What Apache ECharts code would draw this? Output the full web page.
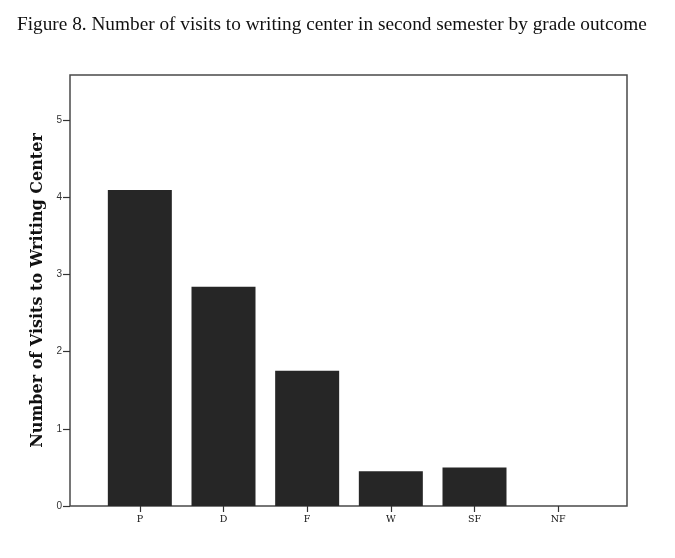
<!DOCTYPE html>
<html>
<head>
<meta charset="utf-8">
<script src="https://cdn.jsdelivr.net/npm/echarts@6/dist/echarts.min.js"></script>
<style>
html,body{margin:0;padding:0;background:#fff;}
#chart{width:675px;height:558px;}
</style>
</head>
<body>
<div id="chart"></div>
<script>
const titleText = "Figure 8. Number of visits to writing center in second semester by grade outcome";
const yAxisTitle = "Number of Visits to Writing Center";
const categories = ["P", "D", "F", "W", "SF", "NF"];
const visits = [4.09, 2.84, 1.75, 0.45, 0.50, 0];
const yTicks = [0, 1, 2, 3, 4, 5];
const yMin = 0, yMax = 5.58;

const chart = echarts.init(document.getElementById('chart'), null, {renderer: 'canvas'});
chart.setOption({
  animation: false,
  backgroundColor: '#fff',
  title: {
    text: titleText,
    left: 12, top: 10,
    textStyle: {fontFamily: 'Liberation Serif', fontSize: 19.3, fontWeight: 'normal', color: '#111'}
  },
  grid: [
    {left: 70, right: 48, top: 75, bottom: 52, show: true, borderColor: '#4a4a4a', borderWidth: 1.5, backgroundColor: 'transparent'},
    {left: 98, right: 75, top: 75, bottom: 52}
  ],
  xAxis: [
    {gridIndex: 0, type: 'value', min: 0, max: 1, show: false},
    {gridIndex: 1, type: 'category', data: categories, boundaryGap: true,
     axisLine: {show: false},
     axisTick: {show: true, alignWithLabel: true, length: 6, lineStyle: {color: '#333', width: 1.2}},
     axisLabel: {margin: 9, fontFamily: 'DejaVu Serif', fontSize: 9.5, color: '#111'}}
  ],
  yAxis: [
    {gridIndex: 0, type: 'value', min: yMin, max: yMax,
     name: yAxisTitle, nameLocation: 'middle', nameGap: 24, nameRotate: 90,
     nameTextStyle: {fontFamily: 'DejaVu Serif', fontSize: 16, fontWeight: 'bold', color: '#111'},
     axisLine: {show: false},
     axisTick: {show: true, length: 7, customValues: yTicks, lineStyle: {color: '#333', width: 1.2}},
     splitLine: {show: false},
     axisLabel: {margin: 8, fontFamily: 'Liberation Sans', fontSize: 10, color: '#333', customValues: yTicks}},
    {gridIndex: 1, type: 'value', min: yMin, max: yMax, show: false}
  ],
  series: [{
    type: 'bar', xAxisIndex: 1, yAxisIndex: 1, data: visits,
    barWidth: 64,
    itemStyle: {color: '#262626'}
  }]
});
</script>
</body>
</html>
